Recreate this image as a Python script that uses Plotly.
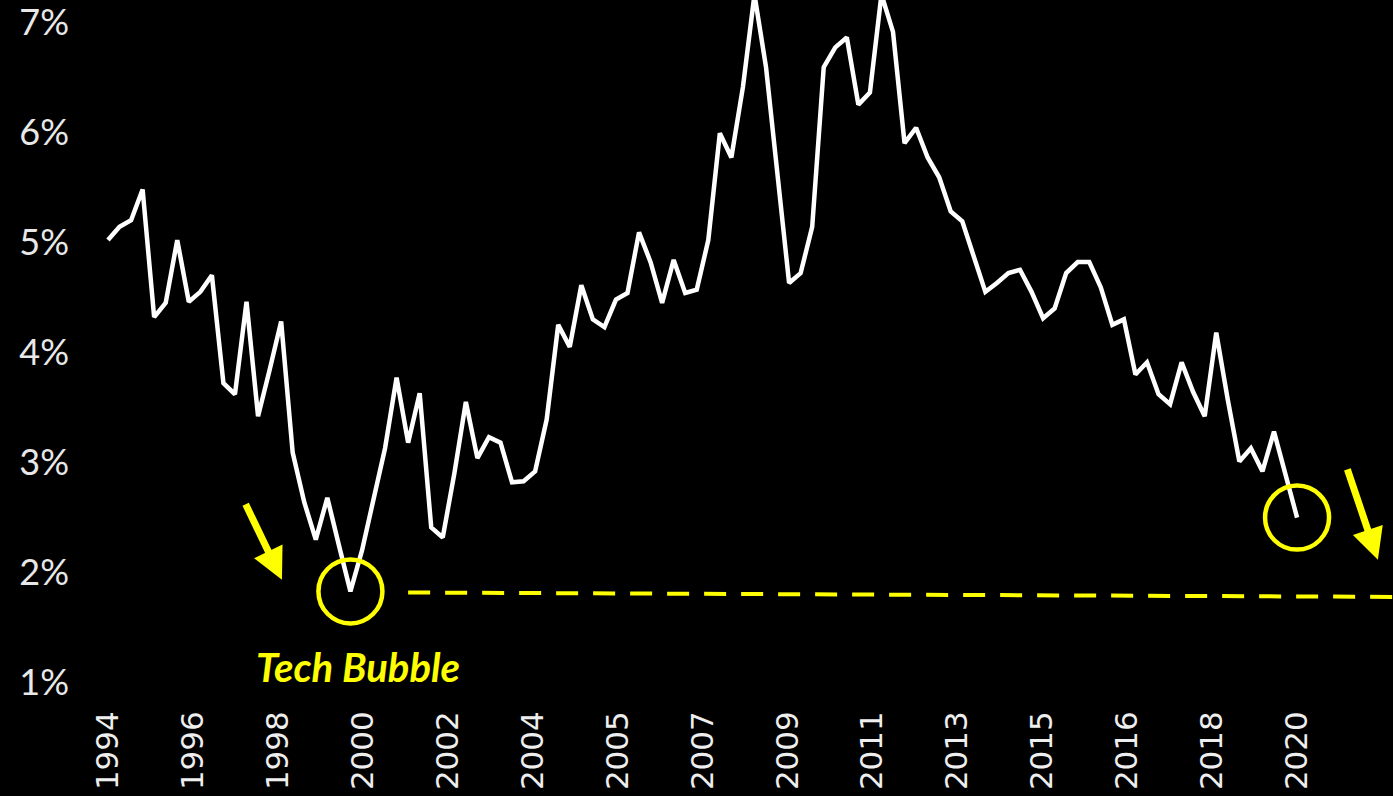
import plotly.graph_objects as go

# Quarterly values (%) 1994Q1 .. 2019Q4
values = [
    5.02, 5.14, 5.20, 5.48, 4.32, 4.45, 5.02, 4.46, 4.55, 4.70,
    3.72, 3.62, 4.46, 3.42, 3.84, 4.28, 3.09, 2.64, 2.30, 2.68,
    2.25, 1.83, 2.20, 2.66, 3.13, 3.77, 3.18, 3.63, 2.41, 2.32,
    2.90, 3.55, 3.04, 3.23, 3.18, 2.82, 2.83, 2.92, 3.39, 4.25,
    4.05, 4.61, 4.30, 4.23, 4.48, 4.54, 5.09, 4.82, 4.45, 4.84,
    4.54, 4.57, 5.02, 5.99, 5.77, 6.41, 7.25, 6.59, 5.61, 4.63,
    4.72, 5.14, 6.59, 6.77, 6.86, 6.25, 6.36, 7.25, 6.91, 5.90,
    6.04, 5.77, 5.59, 5.28, 5.19, 4.87, 4.55, 4.63, 4.72, 4.75,
    4.55, 4.31, 4.40, 4.72, 4.82, 4.82, 4.59, 4.25, 4.30, 3.80,
    3.91, 3.62, 3.53, 3.91, 3.64, 3.42, 4.18, 3.57, 3.01, 3.13,
    2.92, 3.28, 2.89, 2.50,
]
quarter_index = list(range(len(values)))

x_tick_labels = ["1994", "1996", "1998", "2000", "2002", "2004", "2005", "2007",
                 "2009", "2011", "2013", "2015", "2016", "2018", "2020"]
y_tick_values = [1, 2, 3, 4, 5, 6, 7]
y_tick_labels = [f"{v}%" for v in y_tick_values]

# highlighted points: tech-bubble low and latest value
low_idx = values.index(min(values))
last_idx = len(values) - 1

YELLOW = "#FFFF00"
n = len(values) - 1
tick_positions = [i * n / (len(x_tick_labels) - 1) for i in range(len(x_tick_labels))]

fig = go.Figure()
fig.add_trace(go.Scatter(
    x=quarter_index, y=values, mode="lines",
    line=dict(color="white", width=4.5),
    hoverinfo="skip", showlegend=False,
))

shapes = []
for idx in (low_idx, last_idx):
    shapes.append(dict(
        type="circle", xref="x", yref="y",
        xsizemode="pixel", ysizemode="pixel",
        xanchor=idx, yanchor=values[idx],
        x0=-32, x1=32, y0=-32, y1=32,
        line=dict(color=YELLOW, width=4.5),
    ))
# dashed reference line from the tech-bubble low
shapes.append(dict(
    type="line", xref="x", yref="y",
    x0=low_idx + 5, x1=n + 8.5,
    y0=values[low_idx] - 0.01, y1=values[low_idx] - 0.05,
    line=dict(color=YELLOW, width=4, dash="22px,15px"),
))

annotations = [
    dict(x=low_idx - 5.93, y=1.935, xref="x", yref="y", text="",
         showarrow=True, arrowhead=2, arrowsize=0.9, arrowwidth=7,
         arrowcolor=YELLOW, ax=-37, ay=-77, standoff=0),
    dict(x=last_idx + 7.0, y=2.117, xref="x", yref="y", text="",
         showarrow=True, arrowhead=2, arrowsize=0.9, arrowwidth=7,
         arrowcolor=YELLOW, ax=-31, ay=-92, standoff=0),
    dict(x=low_idx, y=1.145, xref="x", yref="y", xshift=8,
         text="<b><i>Tech Bubble</i></b>", showarrow=False,
         font=dict(family="Lato", size=40, color=YELLOW)),
]

fig.update_layout(
    width=1393, height=796,
    margin=dict(l=70, r=0, t=0, b=100),
    paper_bgcolor="black", plot_bgcolor="black",
    shapes=shapes, annotations=annotations,
    xaxis=dict(
        range=[-3.29, 111.31], tickmode="array",
        tickvals=tick_positions, ticktext=x_tick_labels,
        tickangle=-90, showgrid=False, zeroline=False, showline=False,
        ticks="", ticklabelstandoff=8, ticklabeloverflow="allow",
        tickfont=dict(family="DejaVu Sans", size=31, color="#eeeeee"),
    ),
    yaxis=dict(
        range=[0.88, 7.2], tickmode="array",
        tickvals=y_tick_values, ticktext=y_tick_labels,
        showgrid=False, zeroline=False, showline=False, ticks="",
        ticklabeloverflow="allow",
        tickfont=dict(family="Lato", size=36, color="#e8e8e8"),
    ),
)

fig.write_html("out.html", config={"displayModeBar": False},
               post_script="document.body.style.margin='0';")
